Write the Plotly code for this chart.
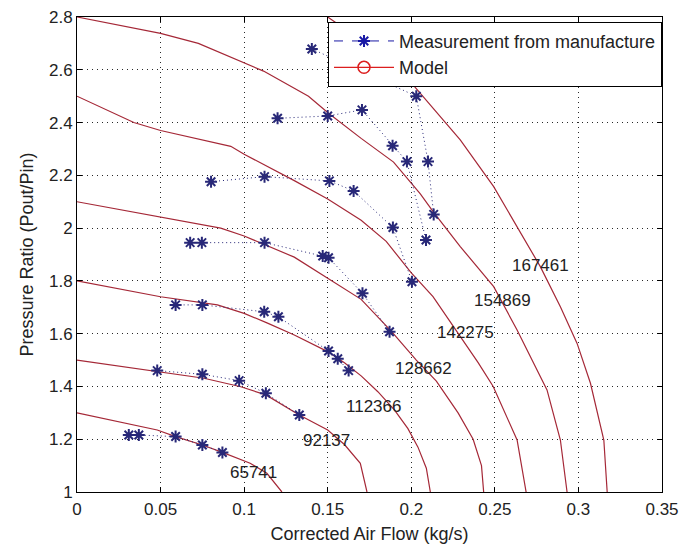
import plotly.graph_objects as go

# ---------------- data ----------------
speeds = ["65741", "92137", "112366", "128662", "142275", "154869", "167461"]

# model speed lines (corrected air flow kg/s, pressure ratio)
model_65741_x = [0, 0.048, 0.059, 0.075, 0.087, 0.1036, 0.1136, 0.1226]
model_65741_y = [1.30, 1.235, 1.21, 1.178, 1.15, 1.109, 1.071, 1.0]
model_92137_x = [0, 0.048, 0.076, 0.098, 0.113, 0.133, 0.150, 0.160, 0.1695, 0.1735]
model_92137_y = [1.50, 1.456, 1.431, 1.399, 1.368, 1.292, 1.235, 1.18, 1.109, 1.0]
model_112366_x = [0, 0.05, 0.084, 0.10, 0.114, 0.13, 0.15, 0.16, 0.17, 0.18, 0.19, 0.198, 0.204, 0.209, 0.2114]
model_112366_y = [1.80, 1.74, 1.709, 1.677, 1.64, 1.595, 1.532, 1.49, 1.44, 1.38, 1.31, 1.24, 1.17, 1.09, 1.0]
model_128662_x = [0, 0.05, 0.086, 0.10, 0.113, 0.13, 0.15, 0.17, 0.188, 0.203, 0.215, 0.228, 0.237, 0.242, 0.2433]
model_128662_y = [2.10, 2.043, 2.0, 1.97, 1.936, 1.89, 1.81, 1.73, 1.61, 1.50, 1.42, 1.30, 1.20, 1.10, 1.0]
model_142275_x = [0, 0.034, 0.05, 0.092, 0.10, 0.13, 0.15, 0.17, 0.185, 0.20, 0.213, 0.227, 0.24, 0.249, 0.2633, 0.2687]
model_142275_y = [2.50, 2.40, 2.37, 2.31, 2.28, 2.18, 2.11, 2.03, 1.95, 1.83, 1.74, 1.61, 1.49, 1.40, 1.197, 1.0]
model_154869_x = [0, 0.05, 0.0726, 0.099, 0.1116, 0.1385, 0.1505, 0.17, 0.1894, 0.2054, 0.2134, 0.2293, 0.2493, 0.2633, 0.2732, 0.2812, 0.2892, 0.2932]
model_154869_y = [2.80, 2.738, 2.70, 2.631, 2.595, 2.50, 2.435, 2.34, 2.25, 2.13, 2.06, 1.93, 1.778, 1.614, 1.488, 1.387, 1.197, 1.0]
model_167461_x = [0.15, 0.175, 0.1994, 0.2174, 0.2293, 0.2493, 0.2633, 0.2772, 0.2892, 0.2992, 0.3072, 0.3152, 0.3172]
model_167461_y = [2.80, 2.69, 2.555, 2.422, 2.334, 2.157, 2.005, 1.854, 1.702, 1.563, 1.412, 1.197, 1.0]

# measurement from manufacture
meas_65741_x = [0.031, 0.037, 0.059, 0.075, 0.087]
meas_65741_y = [1.216, 1.216, 1.21, 1.178, 1.15]
meas_92137_x = [0.048, 0.075, 0.097, 0.113, 0.133]
meas_92137_y = [1.46, 1.446, 1.422, 1.374, 1.292]
meas_112366_x = [0.059, 0.075, 0.112, 0.1205, 0.1505, 0.156, 0.1625]
meas_112366_y = [1.709, 1.709, 1.683, 1.664, 1.534, 1.505, 1.46]
meas_128662_x = [0.0677, 0.0747, 0.1122, 0.147, 0.1505, 0.1708, 0.187]
meas_128662_y = [1.945, 1.945, 1.945, 1.894, 1.888, 1.753, 1.607]
meas_142275_x = [0.0802, 0.1122, 0.151, 0.1655, 0.189, 0.2004]
meas_142275_y = [2.176, 2.195, 2.179, 2.141, 2.002, 1.797]
meas_154869_x = [0.120, 0.150, 0.1705, 0.1888, 0.1974, 0.2088]
meas_154869_y = [2.416, 2.425, 2.448, 2.312, 2.252, 1.955]
meas_167461_x = [0.1405, 0.203, 0.210, 0.2134]
meas_167461_y = [2.679, 2.50, 2.252, 2.052]

# speed label positions
label_x = [0.1056, 0.149, 0.1774, 0.2074, 0.2327, 0.2543, 0.2772]
label_y = [1.073, 1.197, 1.323, 1.469, 1.604, 1.725, 1.86]

x_ticks = [0, 0.05, 0.1, 0.15, 0.2, 0.25, 0.3, 0.35]
y_ticks = [1, 1.2, 1.4, 1.6, 1.8, 2, 2.2, 2.4, 2.6, 2.8]

models = [
    (model_65741_x, model_65741_y), (model_92137_x, model_92137_y),
    (model_112366_x, model_112366_y), (model_128662_x, model_128662_y),
    (model_142275_x, model_142275_y), (model_154869_x, model_154869_y),
    (model_167461_x, model_167461_y),
]
meas = [
    (meas_65741_x, meas_65741_y), (meas_92137_x, meas_92137_y),
    (meas_112366_x, meas_112366_y), (meas_128662_x, meas_128662_y),
    (meas_142275_x, meas_142275_y), (meas_154869_x, meas_154869_y),
    (meas_167461_x, meas_167461_y),
]

# ---------------- styles ----------------
RED = "rgb(165,40,55)"
BLUE = "rgb(25,25,165)"
FONT = "Arial, Liberation Sans, Helvetica, sans-serif"

fig = go.Figure()

for mx, my in models:
    fig.add_trace(go.Scatter(x=mx, y=my, mode="lines",
                             line=dict(color=RED, width=1.2),
                             showlegend=False, hoverinfo="skip"))

for sx, sy in meas:
    fig.add_trace(go.Scatter(x=sx, y=sy, mode="lines+markers",
                             line=dict(color="rgb(40,40,120)", width=1, dash="1px,3px"),
                             marker=dict(symbol="asterisk-open", size=10,
                                         line=dict(color=BLUE, width=2)),
                             showlegend=False))

# legend entries
fig.add_trace(go.Scatter(x=[None], y=[None], mode="lines+markers",
                         name="Measurement from manufacture",
                         line=dict(color=BLUE, width=1, dash="dash"),
                         marker=dict(symbol="asterisk-open", size=10,
                                     line=dict(color=BLUE, width=2))))
fig.add_trace(go.Scatter(x=[None], y=[None], mode="lines+markers",
                         name="Model",
                         line=dict(color="rgb(220,30,30)", width=1.2),
                         marker=dict(symbol="circle-open", size=12,
                                     line=dict(color="rgb(220,30,30)", width=1.5))))

for name, lx, ly in zip(speeds, label_x, label_y):
    fig.add_annotation(x=lx, y=ly, xref="x", yref="y", text=name,
                       showarrow=False, font=dict(size=17, color="#222222", family=FONT))

axis_common = dict(
    showline=True, linecolor="black", linewidth=1, mirror="ticks",
    ticks="inside", ticklen=5, tickcolor="black",
    showgrid=True, gridcolor="rgb(40,40,40)", griddash="1px,4px", gridwidth=1,
    zeroline=False, tickfont=dict(size=17, color="#222222", family=FONT),
    automargin=False,
)

fig.update_xaxes(range=[0, 0.35], tickvals=x_ticks,
                 ticktext=[f"{v:g}" for v in x_ticks],
                 ticklabelstandoff=2,
                 title=dict(text="Corrected Air Flow (kg/s)", standoff=8,
                            font=dict(size=18, color="#222222", family=FONT)),
                 **axis_common)
fig.update_yaxes(range=[1, 2.8], tickvals=y_ticks,
                 ticktext=[f"{v:g}" for v in y_ticks],
                 title=dict(text="Pressure Ratio (Pout/Pin)", standoff=10,
                            font=dict(size=18, color="#222222", family=FONT)),
                 **axis_common)

fig.update_layout(
    width=682, height=545,
    margin=dict(l=77, r=20, t=17, b=53),
    paper_bgcolor="white", plot_bgcolor="white",
    font=dict(family=FONT, color="#222222"),
    legend=dict(x=1, xanchor="right", y=0.99, yanchor="top",
                bgcolor="white", bordercolor="black", borderwidth=1,
                font=dict(size=18, color="#222222", family=FONT),
                itemwidth=60, tracegroupgap=0),
)

fig.write_html("out.html")
